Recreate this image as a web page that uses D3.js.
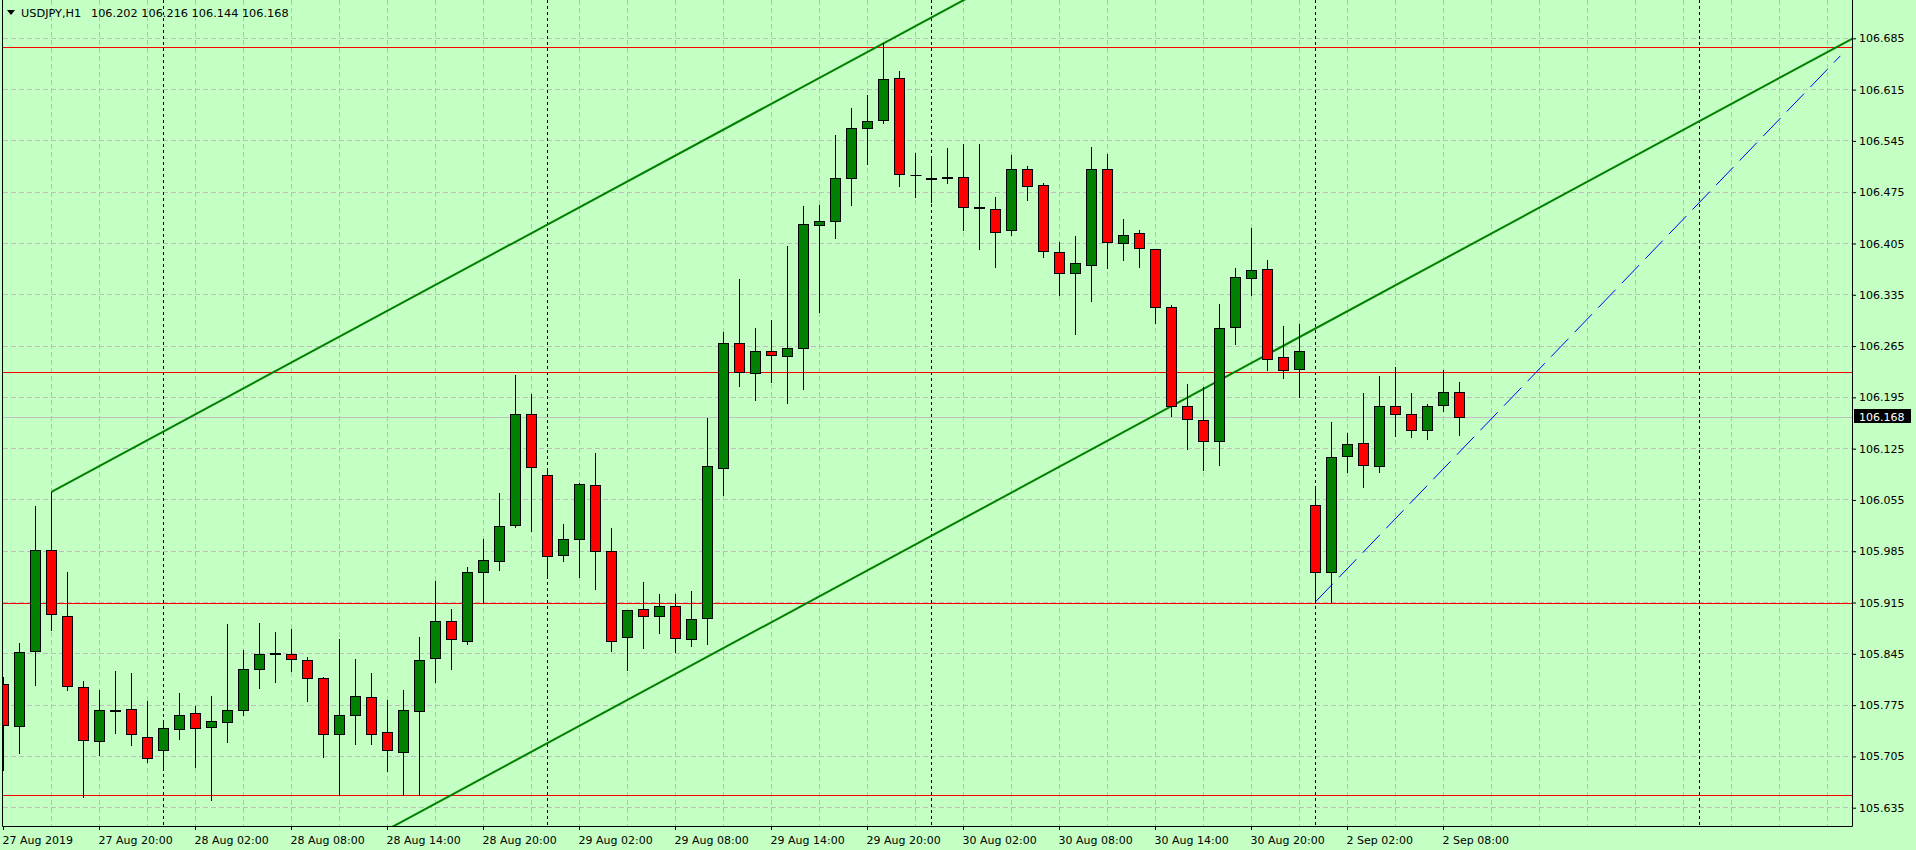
<!DOCTYPE html>
<html>
<head>
<meta charset="utf-8" />
<title>USDJPY,H1</title>
<script src="https://d3js.org/d3.v7.min.js"></script>
<style>
    body { margin: 0; background: #c4ffc4; overflow: hidden; }
    svg { display: block; font-family: "DejaVu Sans", Tahoma, sans-serif; font-size: 11px; }
</style>
</head>
<body>
<svg width="1916" height="850"></svg>
<script>
    // USDJPY H1, bar 0 = 27 Aug 2019 14:00 ... bar 91 = 2 Sep 2019 09:00
    let opens = [105.803, 105.746, 105.847, 105.986, 105.896, 105.799, 105.726, 105.768, 105.769, 105.731,
        105.712, 105.742, 105.763, 105.745, 105.752, 105.768, 105.823, 105.845, 105.844, 105.836,
        105.812, 105.735, 105.762, 105.786, 105.737, 105.710, 105.767, 105.838, 105.889, 105.862,
        105.956, 105.971, 106.019, 106.172, 106.089, 105.979, 106.001, 106.075, 105.984, 105.866,
        105.906, 105.896, 105.910, 105.865, 105.892, 106.097, 106.268, 106.228, 106.257, 106.252,
        106.262, 106.430, 106.435, 106.495, 106.562, 106.573, 106.630, 106.498, 106.493, 106.495,
        106.495, 106.454, 106.452, 106.423, 106.506, 106.484, 106.392, 106.363, 106.375, 106.506,
        106.405, 106.418, 106.397, 106.318, 106.183, 106.164, 106.135, 106.289, 106.356, 106.370,
        106.250, 106.232, 106.048, 105.956, 106.113, 106.132, 106.100, 106.183, 106.172, 106.150,
        106.184, 106.202];
    let highs = [105.814, 105.860, 106.047, 106.066, 105.957, 105.808, 105.796, 105.822, 105.819, 105.781,
        105.752, 105.792, 105.774, 105.788, 105.886, 105.850, 105.887, 105.875, 105.879, 105.841,
        105.813, 105.865, 105.838, 105.819, 105.782, 105.796, 105.868, 105.944, 105.906, 105.964,
        106.002, 106.065, 106.226, 106.200, 106.096, 106.022, 106.078, 106.119, 106.017, 105.905,
        105.943, 105.927, 105.927, 105.931, 106.167, 106.284, 106.357, 106.290, 106.301, 106.402,
        106.456, 106.458, 106.553, 106.590, 106.608, 106.678, 106.641, 106.529, 106.522, 106.535,
        106.541, 106.541, 106.468, 106.526, 106.511, 106.488, 106.407, 106.415, 106.537, 106.527,
        106.438, 106.423, 106.398, 106.321, 106.213, 106.209, 106.322, 106.372, 106.426, 106.382,
        106.293, 106.295, 106.071, 106.161, 106.147, 106.201, 106.224, 106.237, 106.201, 106.186,
        106.232, 106.216];
    let lows = [105.687, 105.710, 105.803, 105.877, 105.796, 105.650, 105.707, 105.737, 105.721, 105.697,
        105.688, 105.729, 105.690, 105.645, 105.724, 105.761, 105.799, 105.806, 105.821, 105.781,
        105.704, 105.652, 105.722, 105.722, 105.685, 105.652, 105.652, 105.807, 105.824, 105.859,
        105.914, 105.959, 106.018, 106.012, 105.953, 105.972, 105.950, 105.934, 105.849, 105.823,
        105.853, 105.874, 105.848, 105.855, 105.859, 106.062, 106.211, 106.191, 106.216, 106.187,
        106.206, 106.312, 106.412, 106.457, 106.514, 106.570, 106.483, 106.468, 106.461, 106.487,
        106.423, 106.398, 106.373, 106.417, 106.465, 106.386, 106.335, 106.282, 106.326, 106.371,
        106.382, 106.373, 106.296, 106.169, 106.125, 106.096, 106.103, 106.268, 106.335, 106.232,
        106.222, 106.196, 105.915, 105.916, 106.093, 106.072, 106.093, 106.142, 106.141, 106.138,
        106.176, 106.144];
    let closes = [105.746, 105.847, 105.986, 105.898, 105.801, 105.726, 105.768, 105.767, 105.734, 105.703,
        105.743, 105.761, 105.743, 105.753, 105.768, 105.824, 105.844, 105.844, 105.836, 105.812,
        105.735, 105.761, 105.787, 105.735, 105.712, 105.767, 105.836, 105.889, 105.864, 105.956,
        105.973, 106.019, 106.171, 106.100, 105.979, 106.001, 106.076, 105.985, 105.861, 105.904,
        105.896, 105.910, 105.866, 105.892, 106.100, 106.268, 106.228, 106.258, 106.251, 106.262,
        106.431, 106.435, 106.494, 106.562, 106.572, 106.629, 106.498, 106.498, 106.492, 106.494,
        106.453, 106.452, 106.420, 106.506, 106.483, 106.393, 106.364, 106.377, 106.506, 106.407,
        106.416, 106.398, 106.318, 106.183, 106.165, 106.135, 106.289, 106.358, 106.368, 106.247,
        106.232, 106.257, 105.956, 106.113, 106.130, 106.101, 106.182, 106.172, 106.150, 106.183,
        106.202, 106.168];

    let timeTickBars = [0, 6, 12, 18, 24, 30, 36, 42, 48, 54, 60, 66, 72, 78, 84, 90];
    let timeTickLabels = ["27 Aug 2019", "27 Aug 20:00", "28 Aug 02:00", "28 Aug 08:00", "28 Aug 14:00",
        "28 Aug 20:00", "29 Aug 02:00", "29 Aug 08:00", "29 Aug 14:00", "29 Aug 20:00", "30 Aug 02:00",
        "30 Aug 08:00", "30 Aug 14:00", "30 Aug 20:00", "2 Sep 02:00", "2 Sep 08:00"];
    let daySeparatorBars = [10, 34, 58, 82, 106];
    let priceTicks = [106.685, 106.615, 106.545, 106.475, 106.405, 106.335, 106.265, 106.195,
        106.125, 106.055, 105.985, 105.915, 105.845, 105.775, 105.705, 105.635];

    let levelPrices = [106.672, 106.229, 105.914, 105.651];
    let bidPrice = 106.168;
    let upperChannel = [[3, 106.066], [60, 106.737]];
    let lowerChannel = [[24.4, 105.610], [115.5, 106.684]];
    let blueTrend = [[82, 105.916], [114.8, 106.661]];
    let titleSymbol = "USDJPY,H1";
    let titleQuote = "106.202 106.216 106.144 106.168";

    let plotLeft = 2.5, plotRight = 1852.5, plotBottom = 826.5;

    let svg = d3.select("svg");
    let x = d3.scaleLinear().domain([0, 100]).range([3.5, 1603.5]);
    let y = d3.scaleLinear().domain([105.635, 106.685]).range([807.7, 38.3]);
    let crisp = v => Math.round(v - 0.5) + 0.5;

    svg.append("rect").attr("width", 1916).attr("height", 850).attr("fill", "#c4ffc4");

    svg.append("clipPath").attr("id", "plot")
        .append("rect").attr("x", 3).attr("y", 0).attr("width", 1849).attr("height", 826);

    let plot = svg.append("g").attr("clip-path", "url(#plot)");

    // grid
    let gridColor = "#bdbdbd";
    plot.selectAll(".hgrid").data(priceTicks).enter().append("line")
        .attr("x1", 3).attr("x2", plotRight)
        .attr("y1", d => crisp(y(d))).attr("y2", d => crisp(y(d)))
        .attr("stroke", gridColor).attr("stroke-dasharray", "5,3");

    let gridBars = d3.range(3, 116, 3);
    plot.selectAll(".vgrid").data(gridBars).enter().append("line")
        .attr("x1", d => x(d)).attr("x2", d => x(d))
        .attr("y1", 0).attr("y2", plotBottom)
        .attr("stroke", gridColor).attr("stroke-dasharray", "5,3");

    plot.selectAll(".sep").data(daySeparatorBars).enter().append("line")
        .attr("x1", d => x(d)).attr("x2", d => x(d))
        .attr("y1", 0).attr("y2", plotBottom)
        .attr("stroke", "#000").attr("stroke-dasharray", "3,3");

    // horizontal levels and bid line
    plot.selectAll(".level").data(levelPrices).enter().append("line")
        .attr("x1", 3).attr("x2", plotRight)
        .attr("y1", d => crisp(y(d))).attr("y2", d => crisp(y(d)))
        .attr("stroke", "#ff0000");

    plot.append("line")
        .attr("x1", 3).attr("x2", plotRight)
        .attr("y1", crisp(y(bidPrice))).attr("y2", crisp(y(bidPrice)))
        .attr("stroke", "#c0c0c0");

    // trend lines
    function extend(pts, from, to) {
        let slope = (pts[1][1] - pts[0][1]) / (pts[1][0] - pts[0][0]);
        let at = b => pts[0][1] + slope * (b - pts[0][0]);
        return [[from, at(from)], [to, at(to)]];
    }
    let lineGen = d3.line().x(d => x(d[0])).y(d => y(d[1]));

    plot.append("path").attr("d", lineGen(extend(upperChannel, upperChannel[0][0], 130)))
        .attr("stroke", "#008000").attr("stroke-width", 2).attr("fill", "none");
    plot.append("path").attr("d", lineGen(extend(lowerChannel, 15, 130)))
        .attr("stroke", "#008000").attr("stroke-width", 2).attr("fill", "none");
    plot.append("path").attr("d", lineGen(blueTrend))
        .attr("stroke", "#0000ff").attr("stroke-width", 1).attr("fill", "none")
        .attr("stroke-dasharray", "25,9");

    // candles
    let bars = d3.range(opens.length);
    let candle = plot.selectAll(".bar").data(bars).enter().append("g");

    candle.append("line")
        .attr("x1", i => x(i)).attr("x2", i => x(i))
        .attr("y1", i => Math.round(y(highs[i]))).attr("y2", i => Math.round(y(lows[i])) + 1)
        .attr("stroke", "#000");

    candle.filter(i => opens[i] !== closes[i]).append("rect")
        .attr("x", i => x(i) - 5)
        .attr("y", i => crisp(y(Math.max(opens[i], closes[i]))))
        .attr("width", 10)
        .attr("height", i => Math.max(1, Math.round(y(Math.min(opens[i], closes[i]))) - Math.round(y(Math.max(opens[i], closes[i])))))
        .attr("fill", i => closes[i] > opens[i] ? "#008000" : "#ff0000")
        .attr("stroke", "#000");

    candle.filter(i => opens[i] === closes[i]).append("line")
        .attr("x1", i => x(i) - 5).attr("x2", i => x(i) + 6)
        .attr("y1", i => crisp(y(opens[i]))).attr("y2", i => crisp(y(opens[i])))
        .attr("stroke", "#000");

    // frame
    svg.append("path")
        .attr("d", `M${plotLeft},0V${plotBottom}H${plotRight}V0`)
        .attr("fill", "none").attr("stroke", "#000");

    // price axis
    let yAxis = svg.append("g").attr("transform", `translate(${plotRight - 0.5},0)`)
        .call(d3.axisRight(y).tickValues(priceTicks).tickFormat(d3.format(".3f"))
            .tickSize(4).tickSizeOuter(0).tickPadding(3));
    yAxis.select(".domain").remove();
    yAxis.attr("font-family", null).attr("font-size", null);
    yAxis.selectAll("text").attr("fill", "#000");

    // bid label
    let by = y(bidPrice);
    svg.append("rect").attr("x", 1854).attr("y", Math.round(by) - 8).attr("width", 57).attr("height", 14)
        .attr("fill", "#000");
    svg.append("text").attr("x", 1859).attr("y", by + 4).attr("fill", "#fff").text(d3.format(".3f")(bidPrice));

    // time axis
    let xAxis = svg.append("g").attr("transform", `translate(0,${plotBottom - 0.5})`)
        .call(d3.axisBottom(x).tickValues(timeTickBars).tickFormat((d, i) => timeTickLabels[i])
            .tickSize(4).tickSizeOuter(0).tickPadding(6).offset(0));
    xAxis.select(".domain").remove();
    xAxis.attr("font-family", null).attr("font-size", null);
    xAxis.selectAll("text").attr("fill", "#000").attr("text-anchor", "start").attr("x", -1);

    // title
    svg.append("path").attr("d", "M7,10H15L11,15Z").attr("fill", "#000");
    svg.append("text").attr("x", 21).attr("y", 17).attr("fill", "#000").style("font-size", "11.3px").text(titleSymbol);
    svg.append("text").attr("x", 91).attr("y", 17).attr("fill", "#000").style("font-size", "11.3px").text(titleQuote);
</script>
</body>
</html>
